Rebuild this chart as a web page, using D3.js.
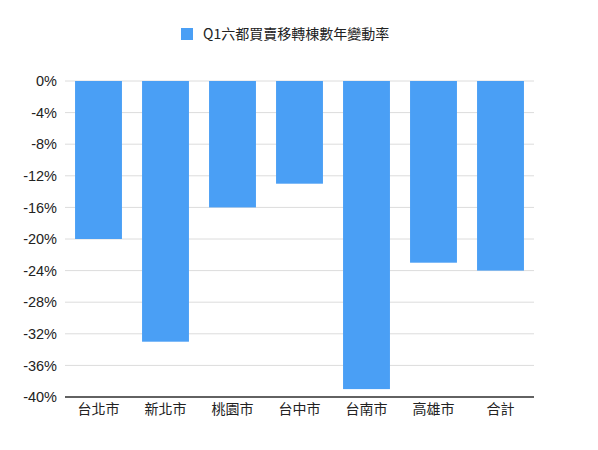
<!DOCTYPE html>
<html>
<head>
<meta charset="utf-8">
<script src="https://cdn.jsdelivr.net/npm/d3@7"></script>
<style>
  body { margin: 0; background: #fff; }
  text { font-family: "Noto Sans CJK TC", "Noto Sans", sans-serif; fill: #222; }
</style>
</head>
<body>
<div id="chart"></div>
<script>
// data
var cities = ["台北市", "新北市", "桃園市", "台中市", "台南市", "高雄市", "合計"];
var changeRate = [-20, -33, -16, -13, -39, -23, -24];
var yTicks = [0, -4, -8, -12, -16, -20, -24, -28, -32, -36, -40];
var seriesName = "Q1六都買賣移轉棟數年變動率";

var svgWidth = 598;
var svgHeight = 450;

var margin = { top: 81, right: 64, bottom: 53, left: 65 };
var width = svgWidth - margin.left - margin.right;
var height = svgHeight - margin.top - margin.bottom;

var svg = d3.select("#chart")
            .append("svg")
            .attr("width", svgWidth)
            .attr("height", svgHeight);

var chartGroup = svg.append("g")
                    .attr("transform", `translate(${margin.left}, ${margin.top})`);

var xScale = d3.scaleBand()
               .domain(cities)
               .range([0, width])
               .paddingInner(0.3)
               .paddingOuter(0.15);

var yScale = d3.scaleLinear()
               .domain([-40, 0])
               .range([height, 0]);

// gridlines
chartGroup.append("g")
          .selectAll("line")
          .data(yTicks)
          .enter()
          .append("line")
          .attr("x1", 0)
          .attr("x2", width)
          .attr("y1", d => yScale(d))
          .attr("y2", d => yScale(d))
          .attr("stroke", "#dcdcdc")
          .attr("stroke-width", 1);

// bars
chartGroup.selectAll("rect.bar")
          .data(changeRate)
          .enter()
          .append("rect")
          .attr("class", "bar")
          .attr("x", (d, i) => xScale(cities[i]))
          .attr("y", yScale(0))
          .attr("width", xScale.bandwidth())
          .attr("height", d => yScale(d) - yScale(0))
          .attr("fill", "#4a9ff5");

// y axis
var leftAxis = d3.axisLeft(yScale)
                 .tickValues(yTicks)
                 .tickSize(0)
                 .tickPadding(8)
                 .tickFormat(d => d + "%");

chartGroup.append("g")
          .call(leftAxis)
          .call(g => g.select(".domain").remove())
          .selectAll("text")
          .attr("font-size", 14.5)
          .style("font-family", "'Liberation Sans', Arial, sans-serif");

// x axis
var bottomAxis = d3.axisBottom(xScale)
                   .tickSize(0)
                   .tickPadding(7);

chartGroup.append("g")
          .attr("transform", `translate(0, ${height})`)
          .call(bottomAxis)
          .call(g => g.select(".domain").remove())
          .selectAll("text")
          .attr("font-size", 14);

chartGroup.append("line")
          .attr("x1", 0)
          .attr("x2", width)
          .attr("y1", height)
          .attr("y2", height)
          .attr("stroke", "#333")
          .attr("stroke-width", 1.5);

// legend
var legend = svg.append("g")
                .attr("transform", "translate(181, 28)");

legend.append("rect")
      .attr("width", 12)
      .attr("height", 12)
      .attr("fill", "#4a9ff5");

legend.append("text")
      .attr("x", 22)
      .attr("y", 6)
      .attr("dy", "0.35em")
      .attr("font-size", 14)
      .text(seriesName);
</script>
</body>
</html>
